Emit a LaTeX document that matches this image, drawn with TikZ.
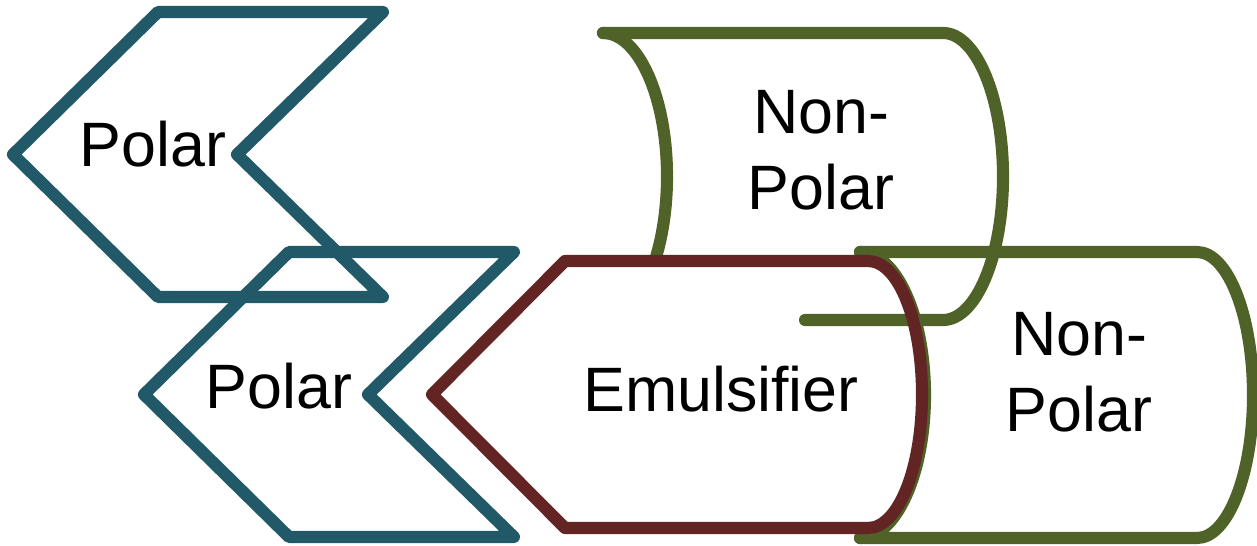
\documentclass[tikz,border=0pt]{standalone}
\usepackage{fontspec}
\setmainfont{Liberation Sans}
\definecolor{teal5}{HTML}{215968}
\definecolor{olive5}{HTML}{4F6228}
\definecolor{red5}{HTML}{632523}
\tikzset{
  outline/.style={line width=6.9pt, line join=round, line cap=round},
  lbl/.style={font=\fontsize{35.7}{43.6}\selectfont, align=center, inner sep=0pt, anchor=base},
}
\begin{document}
\begin{tikzpicture}[x=0.02cm,y=-0.02cm]
\useasboundingbox (0,0) rectangle (1257,546);
% green top shape (partly hidden)
\begin{scope}
\clip (0,0) rectangle (1257,256);
\draw[outline, olive5] (603,33) .. controls (638.3,33) and (667,97.2) .. (667,176.5) .. controls (667,255.8) and (638.3,320) .. (603,320);
\end{scope}
\draw[outline, olive5] (603,33) -- (943,33) .. controls (976.1,33) and (1003,97.2) .. (1003,176.5) .. controls (1003,255.8) and (976.1,320) .. (943,320) -- (805,320);
% teal chevrons
\draw[outline, teal5] (158,12) -- (383,12) -- (237,154.5) -- (383,297) -- (158,297) -- (13,154.5) -- cycle;
\draw[outline, teal5] (289,252) -- (514,252) -- (368,394.5) -- (514,537) -- (289,537) -- (144,394.5) -- cycle;
% green second shape
\draw[outline, olive5] (860,252) -- (1197,252) .. controls (1227.9,252) and (1253,316) .. (1253,395) .. controls (1253,474) and (1227.9,538) .. (1197,538) -- (860,538);
\draw[outline, olive5] (860,252) .. controls (895.9,252) and (925,316) .. (925,395) .. controls (925,474) and (895.9,538) .. (860,538);
% maroon shape
\draw[outline, red5] (565,261) -- (868,261) .. controls (898.4,261) and (922,320.8) .. (922,394.5) .. controls (922,468.2) and (898.4,528) .. (868,528) -- (565,528) -- (432,394.5) -- cycle;
% labels
\node[lbl] (p1) at (153,167) {Polar};
\node[lbl] (p2) at (279,409) {Polar};
\node[lbl] (np1) at (821,210) {Non-\\Polar};
\node[lbl] (em) at (721,412) {Emulsifier};
\node[lbl] (np2) at (1079,432) {Non-\\Polar};
\end{tikzpicture}
\end{document}
